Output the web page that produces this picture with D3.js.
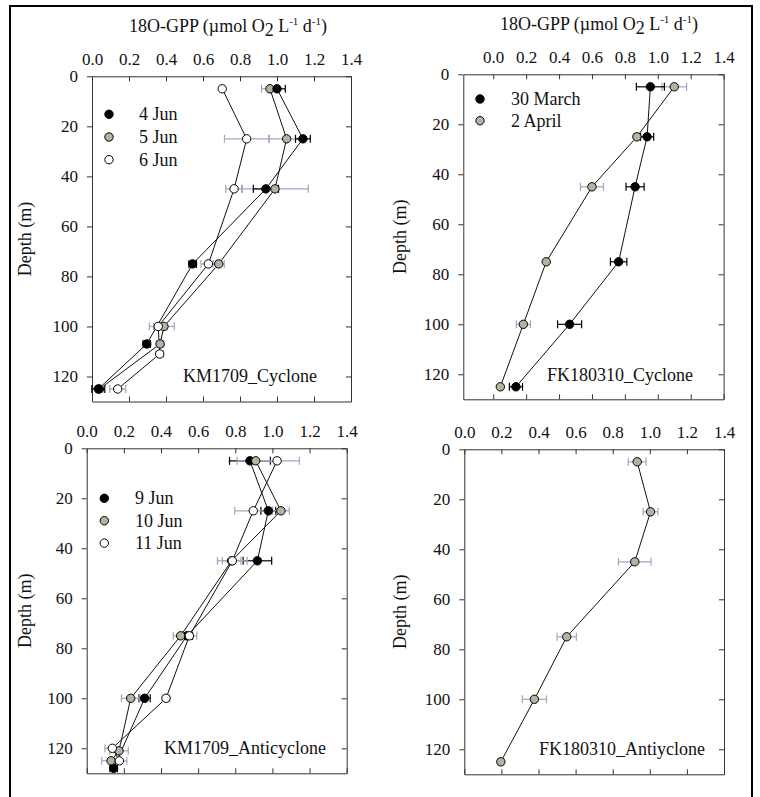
<!DOCTYPE html>
<html><head><meta charset="utf-8">
<script src="https://cdn.jsdelivr.net/npm/d3@7"></script>
<style>body{margin:0;background:#fff} text{font-family:"Liberation Serif","Times New Roman",serif;fill:#111}</style>
</head><body><svg id="c" width="760" height="797"></svg>
<script>
// ---------- data ----------
const depthTicks = [0, 20, 40, 60, 80, 100, 120];
const gppTicks = [0.0, 0.2, 0.4, 0.6, 0.8, 1.0, 1.2, 1.4];

// [depth (m), 18O-GPP, error]
const kmCycloneDates = ["4 Jun", "5 Jun", "6 Jun"];
const kmCyc4Jun = [[5,1.00,0.045],[25,1.14,0.04],[45,0.94,0.068],[75,0.544,0.02],[107,0.296,0.02],[125,0.034,0.035]];
const kmCyc5Jun = [[5,0.962,0.045],[25,1.052,0.095],[45,0.989,0.18],[75,0.685,0.03],[100,0.389,0.056],[107,0.368,0.02],[125,0.04,0.02]];
const kmCyc6Jun = [[5,0.704,0.01],[25,0.836,0.12],[45,0.768,0.045],[75,0.629,0.04],[100,0.358,0.048],[111,0.366,0.02],[125,0.139,0.043]];

const fkCycloneDates = ["30 March", "2 April"];
const fkCyc30Mar = [[5,0.955,0.085],[25,0.935,0.04],[45,0.862,0.055],[75,0.762,0.05],[100,0.464,0.073],[125,0.138,0.04]];
const fkCyc2Apr = [[5,1.10,0.075],[25,0.873,0.02],[45,0.60,0.07],[75,0.322,0.01],[100,0.183,0.043],[125,0.043,0.01]];

const kmAntiDates = ["9 Jun", "10 Jun", "11 Jun"];
const kmAnti9Jun = [[5,0.879,0.11],[25,0.978,0.04],[45,0.919,0.077],[75,0.54,0.03],[100,0.312,0.03],[128,0.145,0.02]];
const kmAnti10Jun = [[5,0.910,0.10],[25,1.046,0.045],[45,0.78,0.05],[75,0.506,0.04],[100,0.237,0.05],[121,0.174,0.05],[125,0.131,0.05]];
const kmAnti11Jun = [[5,1.025,0.12],[25,0.897,0.10],[45,0.784,0.08],[75,0.553,0.04],[100,0.427,0.02],[120,0.138,0.04],[125,0.176,0.04]];

const fkAntiSeries = [[5,0.932,0.048],[25,1.004,0.04],[45,0.919,0.088],[75,0.552,0.052],[100,0.378,0.065],[125,0.197,0.015]];

const panelLabels = ["KM1709_Cyclone", "FK180310_Cyclone", "KM1709_Anticyclone", "FK180310_Antiyclone"];

// ---------- styles ----------
const BLACK = {fill:"#000", err:"#000"};
const GREY = {fill:"#b3b3a2", err:"#a4a4c2"};
const WHITE = {fill:"#fff", err:"#a4a4c2"};
const FS = 17;

const svg = d3.select("#c");
svg.append("rect").attr("x",10).attr("y",6).attr("width",742).attr("height",800)
  .attr("fill","none").attr("stroke","#000").attr("stroke-width",2);

function panel(o) {
  const g = svg.append("g");
  const x = d3.scaleLinear().domain([o.xmin, 1.4]).range([o.x0, o.x1]);
  const y = d3.scaleLinear().domain([0, 130]).range([o.y0, o.y1]);

  const styleAxis = sel => {
    sel.selectAll("path,line").attr("stroke","#333").attr("stroke-width",1);
    sel.selectAll("text").style("font-family",'"Liberation Serif",serif').style("font-size",FS+"px").attr("fill","#111");
  };
  g.append("g").attr("transform",`translate(0,${o.y0})`)
    .call(d3.axisTop(x).tickValues(gppTicks).tickFormat(d3.format(".1f")).tickSizeInner(-5).tickSizeOuter(0).tickPadding(11))
    .call(styleAxis);
  g.append("g").attr("transform",`translate(0,${o.y1})`)
    .call(d3.axisBottom(x).tickValues(gppTicks).tickFormat("").tickSizeInner(-5).tickSizeOuter(0))
    .call(styleAxis);
  g.append("g").attr("transform",`translate(${o.x0},0)`)
    .call(d3.axisLeft(y).tickValues(depthTicks).tickSizeInner(5).tickSizeOuter(0).tickPadding(9))
    .call(styleAxis);
  g.append("g").attr("transform",`translate(${o.x1},0)`)
    .call(d3.axisRight(y).tickValues(depthTicks).tickFormat("").tickSizeInner(-5).tickSizeOuter(0))
    .call(styleAxis);

  // depth label
  g.append("text").attr("transform",`translate(${o.ylabX},${(o.y0+o.y1)/2}) rotate(-90)`)
    .attr("text-anchor","middle").style("font-size","18px").text("Depth (m)");

  // title
  if (o.title) {
    const t = g.append("text").attr("x",o.titleX).attr("y",o.titleY).attr("text-anchor","middle").style("font-size","18px");
    t.append("tspan").text("18O-GPP (\u00b5mol O");
    t.append("tspan").attr("dy",4).text("2");
    t.append("tspan").attr("dy",-4).text(" L");
    t.append("tspan").attr("dy",-7).style("font-size","11px").text("-1");
    t.append("tspan").attr("dy",7).text(" d");
    t.append("tspan").attr("dy",-7).style("font-size","11px").text("-1");
    t.append("tspan").attr("dy",7).text(")");
  }

  const line = d3.line().x(d => x(d[1])).y(d => y(d[0]));
  o.series.forEach(s => {
    g.append("path").datum(s.data).attr("d",line).attr("fill","none").attr("stroke","#111").attr("stroke-width",1);
  });
  o.series.forEach(s => {
    const eb = g.append("g").attr("stroke",s.style.err).attr("stroke-width",1.2);
    s.data.forEach(d => {
      const yy = y(d[0]), xa = x(d[1]-d[2]), xb = x(d[1]+d[2]);
      eb.append("line").attr("x1",xa).attr("x2",xb).attr("y1",yy).attr("y2",yy);
      eb.append("line").attr("x1",xa).attr("x2",xa).attr("y1",yy-4).attr("y2",yy+4);
      eb.append("line").attr("x1",xb).attr("x2",xb).attr("y1",yy-4).attr("y2",yy+4);
    });
  });
  o.series.forEach(s => {
    g.append("g").selectAll("circle").data(s.data).join("circle")
      .attr("cx",d => x(d[1])).attr("cy",d => y(d[0])).attr("r",4.2)
      .attr("fill",s.style.fill).attr("stroke","#000").attr("stroke-width",1);
  });

  // legend
  if (o.legend) {
    o.legend.items.forEach((it,i) => {
      const cy = o.legend.y + i*o.legend.dy;
      g.append("circle").attr("cx",o.legend.x).attr("cy",cy).attr("r",4.2)
        .attr("fill",it.style.fill).attr("stroke","#000");
      g.append("text").attr("x",o.legend.tx).attr("y",cy+6).style("font-size","18px").text(it.name);
    });
  }
  g.append("text").attr("x",o.labX).attr("y",o.labY).attr("text-anchor","end").style("font-size","18px").text(o.label);
}

panel({x0:92, x1:351, y0:76.3, y1:401.5, xmin:0, ylabX:31,
  title:true, titleX:228, titleY:32,
  series:[{data:kmCyc5Jun,style:GREY},{data:kmCyc4Jun,style:BLACK},{data:kmCyc6Jun,style:WHITE}],
  legend:{x:109, y:114.3, dy:22.7, tx:139, items:[{name:kmCycloneDates[0],style:BLACK},{name:kmCycloneDates[1],style:GREY},{name:kmCycloneDates[2],style:WHITE}]},
  label:panelLabels[0], labX:317, labY:382});

panel({x0:463.3, x1:723.6, y0:74.3, y1:399.3, xmin:-0.182, ylabX:406,
  title:true, titleX:599, titleY:30,
  series:[{data:fkCyc2Apr,style:GREY},{data:fkCyc30Mar,style:BLACK}],
  legend:{x:480, y:99, dy:21.7, tx:511, items:[{name:fkCycloneDates[0],style:BLACK},{name:fkCycloneDates[1],style:GREY}]},
  label:panelLabels[1], labX:693, labY:381});

panel({x0:86.7, x1:346.7, y0:448.3, y1:773.3, xmin:0, ylabX:31,
  title:false,
  series:[{data:kmAnti9Jun,style:BLACK},{data:kmAnti10Jun,style:GREY},{data:kmAnti11Jun,style:WHITE}],
  legend:{x:104.3, y:498.3, dy:22.4, tx:135, items:[{name:kmAntiDates[0],style:BLACK},{name:kmAntiDates[1],style:GREY},{name:kmAntiDates[2],style:WHITE}]},
  label:panelLabels[2], labX:326, labY:754});

panel({x0:464.3, x1:724, y0:449.3, y1:774.3, xmin:0, ylabX:406,
  title:false,
  series:[{data:fkAntiSeries,style:GREY}],
  legend:null,
  label:panelLabels[3], labX:705, labY:755});
</script></body></html>
